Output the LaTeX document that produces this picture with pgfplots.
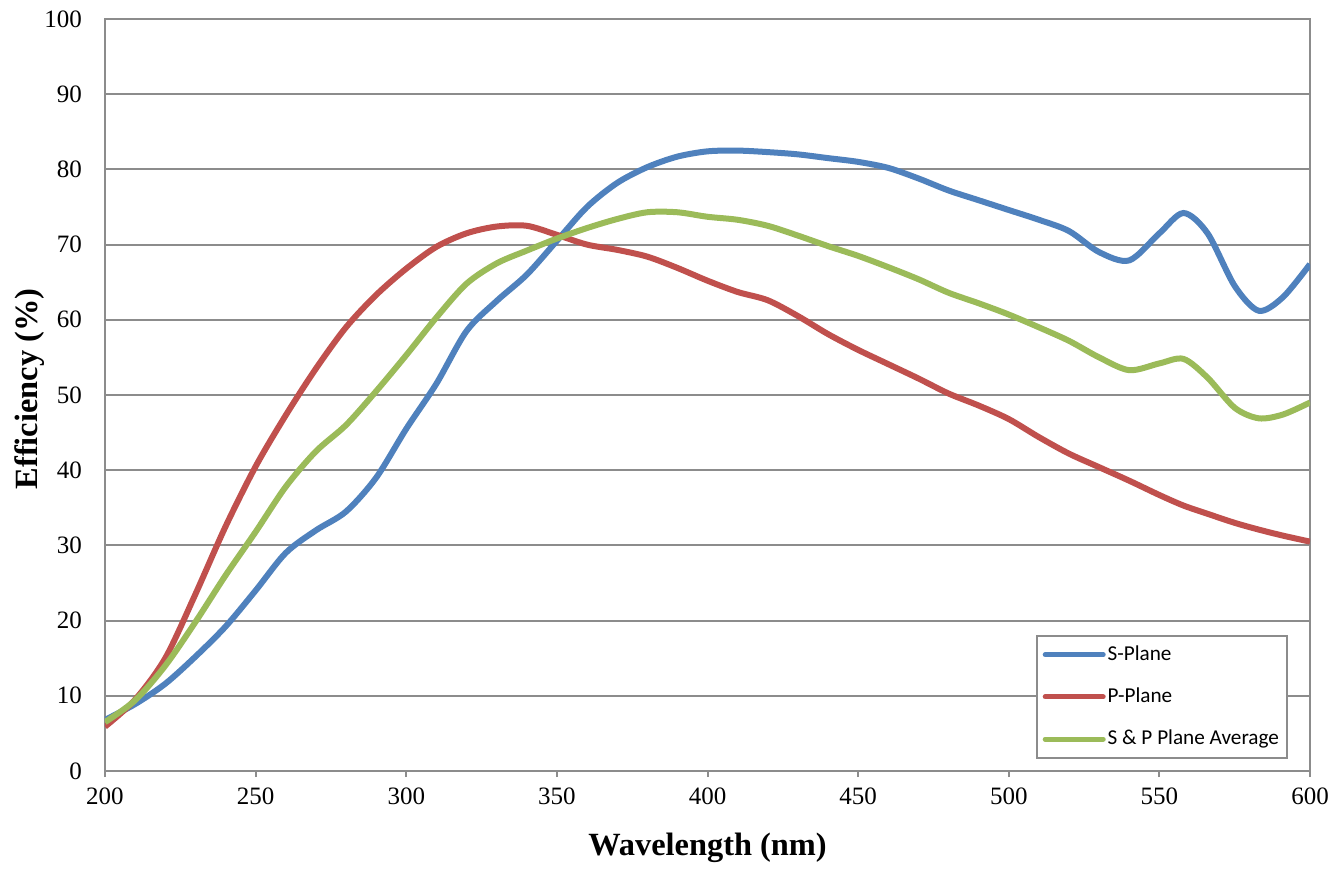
\documentclass[border=0pt]{standalone}
\usepackage{pgfplots}
\pgfplotsset{compat=1.18}
\usepackage{fontspec}
\setmainfont{Liberation Serif}
\newfontfamily\carlito{Carlito}

\definecolor{sblue}{HTML}{4F81BD}
\definecolor{pred}{HTML}{C0504D}
\definecolor{agreen}{HTML}{9BBB59}
\definecolor{gridgray}{HTML}{8C8C8C}

\pgfplotstableread{
wl   s     p     avg
200  6.8   5.9   6.5
210  8.9   9.5   9.4
220  11.6  15.0  14.0
230  15.2  23.5  19.8
240  19.2  32.5  26.0
250  24.0  40.5  31.8
260  29.0  47.3  37.8
270  32.0  53.5  42.5
280  34.5  59.0  46.0
290  39.0  63.3  50.5
300  45.5  66.8  55.3
310  51.5  69.7  60.3
320  58.5  71.5  64.8
330  62.5  72.4  67.5
340  66.0  72.5  69.2
350  70.5  71.3  70.8
360  75.0  70.0  72.2
370  78.2  69.3  73.4
380  80.3  68.4  74.3
390  81.7  66.9  74.3
400  82.4  65.2  73.7
410  82.5  63.7  73.3
420  82.3  62.6  72.5
430  82.0  60.5  71.2
440  81.5  58.1  69.8
450  81.0  56.0  68.5
460  80.2  54.1  67.0
470  78.8  52.2  65.4
480  77.2  50.2  63.6
490  75.9  48.6  62.2
500  74.6  46.8  60.7
510  73.3  44.4  59.0
520  71.8  42.2  57.2
530  69.0  40.4  55.0
540  67.9  38.6  53.3
550  71.5  36.7  54.2
558  74.2  35.3  54.8
566  71.5  34.2  52.3
575  64.5  33.0  48.3
583  61.2  32.1  46.9
591  63.0  31.3  47.4
600  67.4  30.5  49.0
}\data

\begin{document}
\begin{tikzpicture}
\begin{axis}[
    scale only axis,
    width=602.5pt, height=376pt,
    xmin=200, xmax=600, ymin=0, ymax=100,
    xtick={200,250,...,600},
    ytick={0,10,...,100},
    axis line style={gridgray, line width=1pt},
    ymajorgrids,
    grid style={gridgray, line width=1pt},
    tick align=outside,
    x tick style={gridgray, line width=1pt},
    major tick length=3pt,
    y tick style={draw=none},
    xtick pos=bottom, ytick pos=left,
    /pgf/number format/assume math mode=true,
    ticklabel style={font=\fontsize{12.5}{14}\selectfont},
    yticklabel style={xshift=-5pt},
    xticklabel style={yshift=-2pt},
    xlabel={\textbf{Wavelength (nm)}},
    ylabel={\textbf{Efficiency (\%)}},
    label style={font=\fontsize{16.2}{19}\selectfont},
    x label style={at={(axis description cs:0.5,-0.102)}, anchor=center},
    y label style={at={(axis description cs:-0.0622,0.508)}, anchor=center},
    legend cell align=left,
    legend style={at={(0.9817,0.016)}, anchor=south east,
        draw=gridgray, line width=1pt,
        font=\carlito\fontsize{10.6}{12}\selectfont,
        inner xsep=3pt, inner ysep=3pt, row sep=8.25pt, column sep=0pt,
        nodes={inner xsep=1pt}},
    legend image code/.code={\draw[#1, line width=2.5pt, line cap=round] (2pt,0pt) -- (31pt,0pt);},
]
\coordinate (bl) at (rel axis cs:0,0);
\coordinate (tr) at (rel axis cs:1,1);
\addplot[sblue, line width=3pt, smooth] table[x=wl, y=s] {\data};
\addlegendentry{S-Plane}
\addplot[pred, line width=3pt, smooth] table[x=wl, y=p] {\data};
\addlegendentry{P-Plane}
\addplot[agreen, line width=3pt, smooth] table[x=wl, y=avg] {\data};
\addlegendentry{S \& P Plane Average}
\end{axis}
\path ([xshift=-52.5pt,yshift=-46pt]bl) rectangle ([xshift=13pt,yshift=9.5pt]tr);
\end{tikzpicture}
\end{document}
